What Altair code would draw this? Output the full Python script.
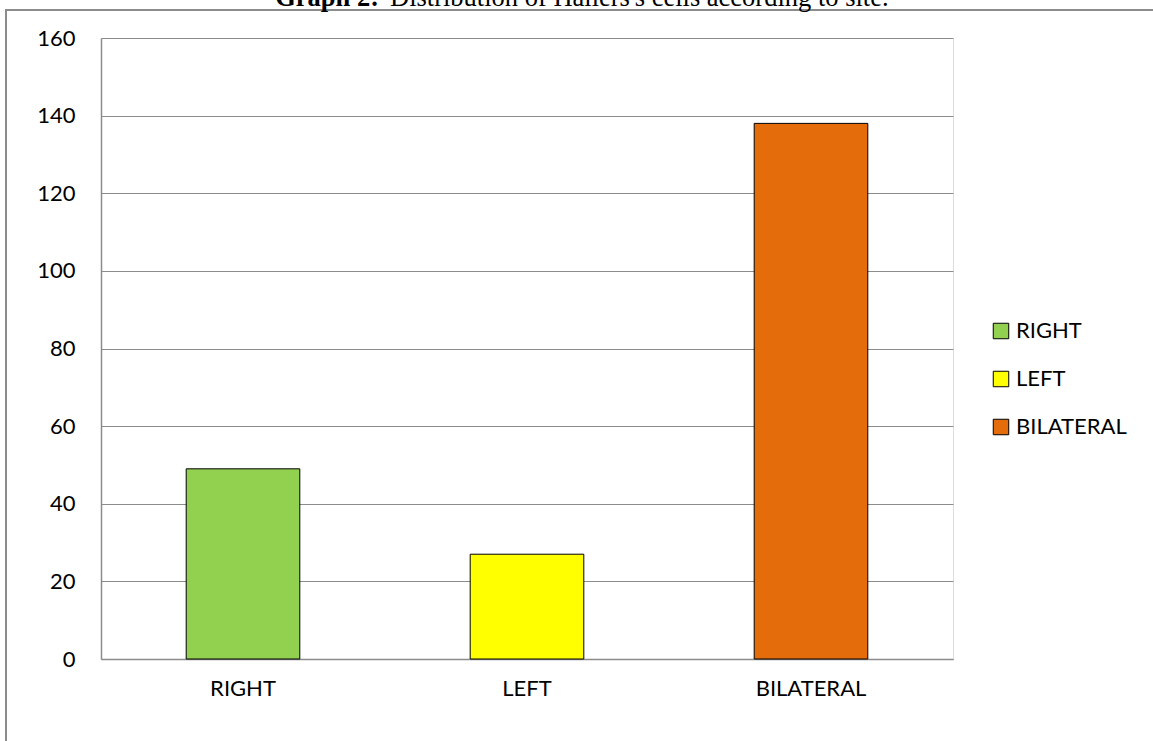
import altair as alt
import pandas as pd

categories = ["RIGHT", "LEFT", "BILATERAL"]
counts = [49, 27, 138]
colors = ["#92D050", "#FFFF00", "#E46C0A"]
y_ticks = [0, 20, 40, 60, 80, 100, 120, 140, 160]
title_bold = "Graph 2:"
title_rest = "Distribution of Hallers's cells according to site."

df = pd.DataFrame({"site": categories, "count": counts})
one = pd.DataFrame({"k": [0]})

FONT = "Lato"
FS = 22

bars = alt.Chart(df).mark_bar(stroke="black", strokeWidth=1).encode(
    x=alt.X("site:N", sort=categories,
            scale=alt.Scale(paddingInner=0.6, paddingOuter=0.3),
            axis=alt.Axis(title=None, labelAngle=0, ticks=False, labelPadding=19,
                          labelFontSize=FS, labelFont=FONT, labelColor="black",
                          domainColor="#8c8c8c", domainWidth=1.5, grid=False)),
    y=alt.Y("count:Q", scale=alt.Scale(domain=[0, 160], nice=False),
            axis=alt.Axis(title=None, values=y_ticks, ticks=False, labelPadding=26,
                          labelFontSize=FS, labelFont=FONT, labelColor="black",
                          domainColor="#8c8c8c", domainWidth=1.5,
                          gridColor="#8c8c8c", gridWidth=1.2)),
    color=alt.Color("site:N", sort=categories,
                    scale=alt.Scale(domain=categories, range=colors),
                    legend=alt.Legend(title=None, orient="none", legendX=889, legendY=282,
                                      symbolType="square", symbolSize=240,
                                      symbolStrokeColor="black", symbolStrokeWidth=1,
                                      symbolOpacity=1,
                                      labelFontSize=FS, labelFont=FONT, labelColor="black",
                                      rowPadding=26, labelOffset=4)),
)

frame = alt.Chart(one).mark_rect(fill=None, stroke="#8c8c8c", strokeWidth=2).encode(
    x=alt.value(-95), x2=alt.value(1070), y=alt.value(-28), y2=alt.value(720)
)

t1 = alt.Chart(one).mark_text(font="Liberation Serif", fontSize=26.5, fontWeight="bold",
                              align="right", baseline="alphabetic", color="black").encode(
    x=alt.value(278), y=alt.value(-32), text=alt.value(title_bold)
)
t2 = alt.Chart(one).mark_text(font="Liberation Serif", fontSize=26.5,
                              align="left", baseline="alphabetic", color="black").encode(
    x=alt.value(289), y=alt.value(-32), text=alt.value(title_rest)
)

chart = alt.layer(frame, bars, t1, t2).properties(
    width=852, height=621,
    autosize=alt.AutoSizeParams(type="none"),
    padding={"left": 101, "top": 38, "right": 200, "bottom": 82},
).configure_view(stroke=None).configure(background="white")

chart.save("out.html", embed_options={"renderer": "svg", "actions": False})
